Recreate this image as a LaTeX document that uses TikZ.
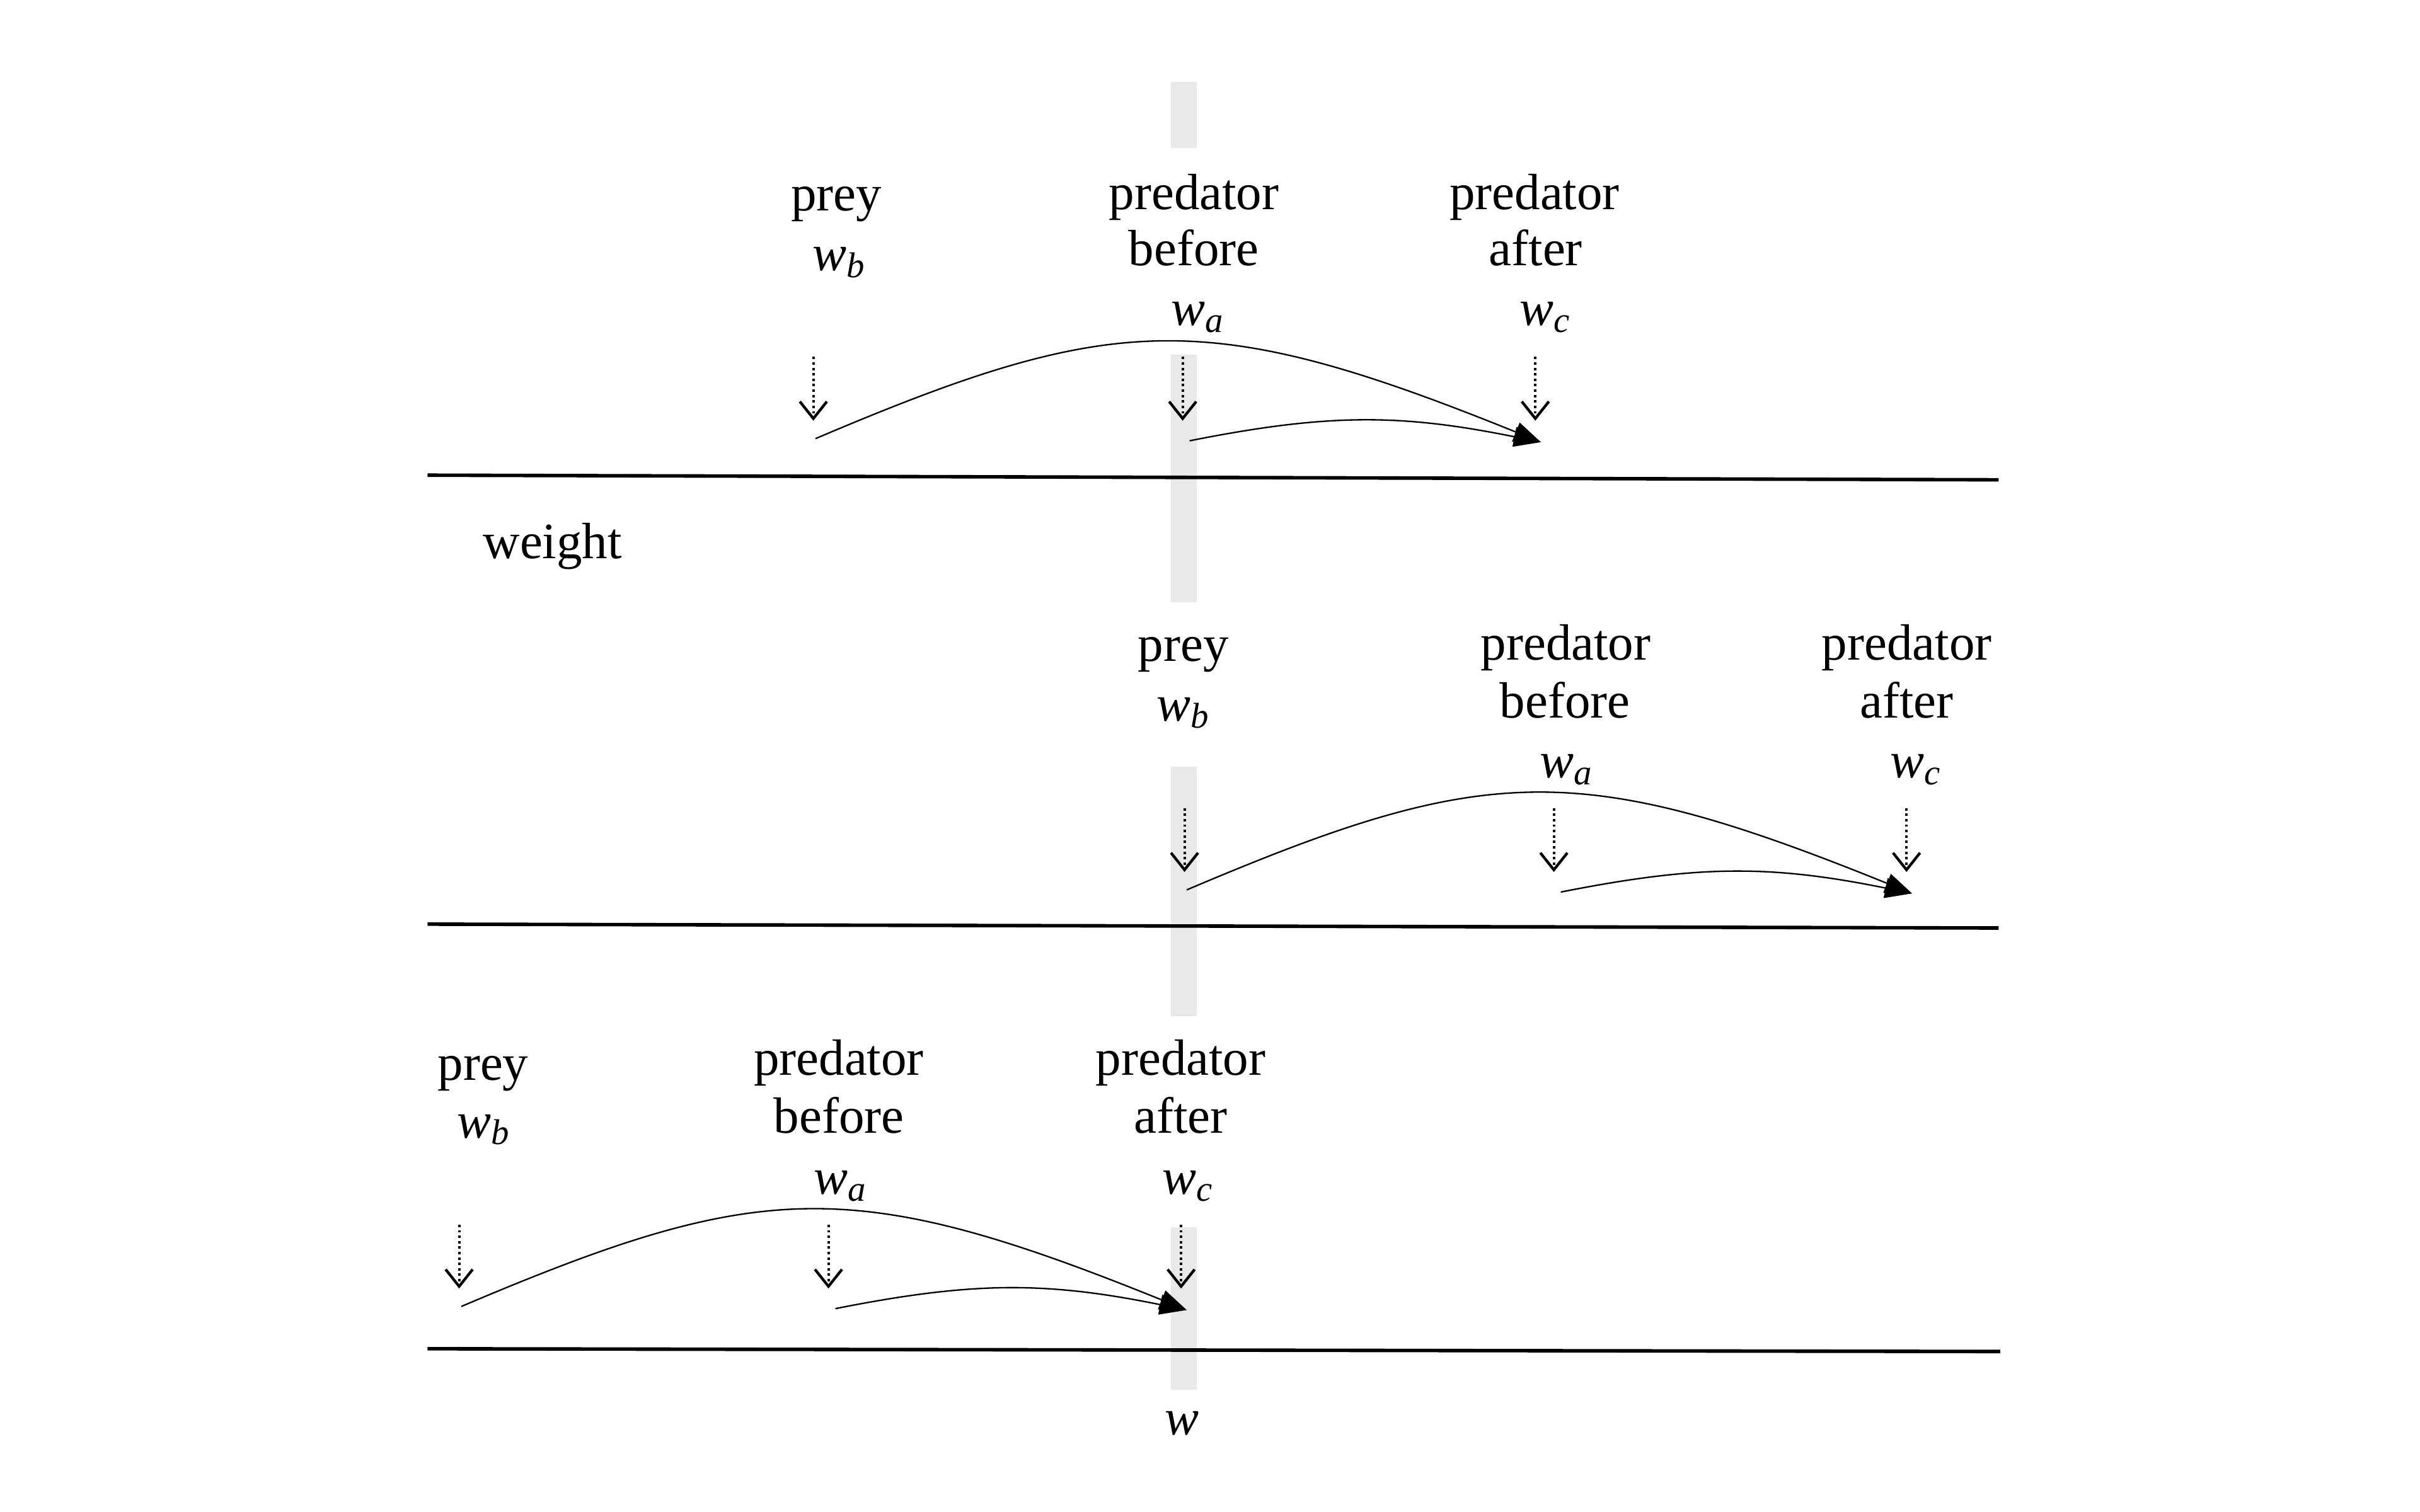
\documentclass[tikz,border=0pt]{standalone}
\usepackage{fontspec}
\setmainfont{Liberation Serif}
\usetikzlibrary{arrows.meta}
\definecolor{barg}{RGB}{233,233,233}
\newcommand\lbfont{\fontsize{9.4}{11}\selectfont}
\newcommand\wsub[1]{\textit{w}\raisebox{-1.2pt}{\fontsize{6.6}{7}\selectfont\textit{#1}}}
\tikzset{
  lbl/.style={font=\lbfont, inner sep=0pt, anchor=base},
  dotarrow/.style={line width=0.45pt, dash pattern=on 0.45pt off 0.55pt,
    -{Straight Barb[length=1.1mm, width=1.75mm, line width=0.5pt]}},
  jump/.style={line width=0.27pt, -{Triangle[length=1.75mm, width=1.3mm]}},
  axisline/.style={line width=0.65pt},
}
\begin{document}
\begin{tikzpicture}[x=0.01cm, y=-0.01cm]
\useasboundingbox (0,0) rectangle (1568,980);
% grey reference bar
\fill[barg] (758.5,53) rectangle (775.5,96);
\fill[barg] (758.5,230) rectangle (775.5,390.4);
\fill[barg] (758.5,497) rectangle (775.5,658.5);
\fill[barg] (758.5,795.5) rectangle (775.5,901);
% axis lines
\coordinate (l1a) at (277,308);   \coordinate (l1b) at (1295,311);
\coordinate (l2a) at (277,599);   \coordinate (l2b) at (1295,601.5);
\coordinate (l3a) at (277,874.2); \coordinate (l3b) at (1296,876);
\draw[axisline] (l1a) -- (l1b);
\draw[axisline] (l2a) -- (l2b);
\draw[axisline] (l3a) -- (l3b);
% labels panel 1
\node[lbl] (t1prey) at (542,136.8) {prey};
\node[lbl] (t1wb) at (543.5,175.5) {\wsub{b}};
\node[lbl] (t1pb) at (773.6,135.6) {predator};
\node[lbl] (t1bf) at (773.4,172) {before};
\node[lbl] (t1wa) at (775.6,211) {\wsub{a}};
\node[lbl] (t1pa) at (994.3,135.6) {predator};
\node[lbl] (t1af) at (995,172) {after};
\node[lbl] (t1wc) at (1000.8,211) {\wsub{c}};
\node[lbl] (weight) at (358,362) {weight};
% labels panel 2
\node[lbl] (t2prey) at (766.8,428.7) {prey};
\node[lbl] (t2wb) at (766.5,467.5) {\wsub{b}};
\node[lbl] (t2pb) at (1014.5,427.8) {predator};
\node[lbl] (t2bf) at (1014,465.3) {before};
\node[lbl] (t2wa) at (1014.7,504.3) {\wsub{a}};
\node[lbl] (t2pa) at (1235.5,427.8) {predator};
\node[lbl] (t2af) at (1235.5,465.3) {after};
\node[lbl] (t2wc) at (1241,504.3) {\wsub{c}};
% labels panel 3
\node[lbl] (t3prey) at (313,700) {prey};
\node[lbl] (t3wb) at (313,737.7) {\wsub{b}};
\node[lbl] (t3pb) at (543.5,697) {predator};
\node[lbl] (t3bf) at (543.5,734.6) {before};
\node[lbl] (t3wa) at (544,774.2) {\wsub{a}};
\node[lbl] (t3pa) at (765,697) {predator};
\node[lbl] (t3af) at (765,734.6) {after};
\node[lbl] (t3wc) at (769.5,774.2) {\wsub{c}};
\node[lbl] (wlab) at (766,930) {\textit{w}};
% arrows per panel
\foreach \p/\dx/\dy in {1/0/0, 2/240.5/292.5, 3/-229.5/562.5}{
  \begin{scope}[shift={(\dx,\dy)}]
    \coordinate (d\p at) at (527,231.3);   \coordinate (d\p ab) at (527,272.7);
    \coordinate (d\p bt) at (766.3,231.3); \coordinate (d\p bb) at (766.3,272.7);
    \coordinate (d\p ct) at (994.8,231.3); \coordinate (d\p cb) at (994.8,272.7);
    \coordinate (c\p s) at (528.4,284.3);
    \coordinate (c\p m) at (770.8,285.7);
    \coordinate (c\p e) at (998.4,286.6);
    \draw[dotarrow] (d\p at) -- (d\p ab);
    \draw[dotarrow] (d\p bt) -- (d\p bb);
    \draw[dotarrow] (d\p ct) -- (d\p cb);
    \draw[jump] (c\p s) .. controls (722,202) and (782,199) .. (c\p e);
    \draw[jump] (c\p m) .. controls (860,268) and (907,268) .. (c\p e);
  \end{scope}
}
\end{tikzpicture}
\end{document}
